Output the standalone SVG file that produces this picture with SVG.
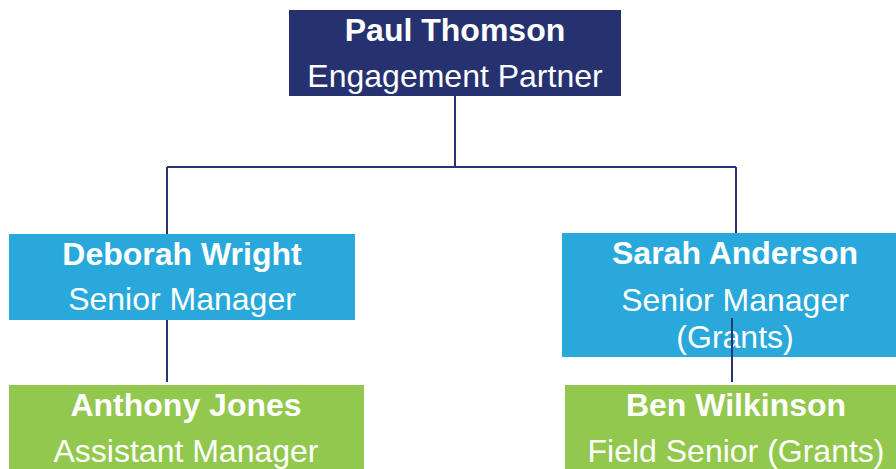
<svg xmlns="http://www.w3.org/2000/svg" width="896" height="469" viewBox="0 0 896 469">
<style>
.t{font-family:"Liberation Sans",Arial,sans-serif;font-size:32px;fill:#fff;text-anchor:middle}
.b{font-weight:bold}
.ln{stroke:#2b3376;stroke-width:2;fill:none}
</style>
<rect width="896" height="469" fill="#fff"/>
<g id="n-paul">
<rect x="289" y="10" width="332" height="86" fill="#263270"/>
<text class="t b" x="455" y="41">Paul Thomson</text>
<text class="t" x="455" y="87">Engagement Partner</text>
</g>
<g id="n-deborah">
<rect x="9" y="234" width="346" height="86" fill="#29a9db"/>
<text class="t b" x="182" y="265">Deborah Wright</text>
<text class="t" x="182" y="310">Senior Manager</text>
</g>
<g id="n-sarah">
<rect x="562" y="233" width="334" height="124" fill="#29a9db"/>
<text class="t b" x="735" y="264">Sarah Anderson</text>
<text class="t" x="735" y="311">Senior Manager</text>
<text class="t" x="735" y="348">(Grants)</text>
</g>
<g id="n-anthony">
<rect x="9" y="385" width="355" height="84" fill="#93c84e"/>
<text class="t b" x="186" y="416">Anthony Jones</text>
<text class="t" x="186" y="462">Assistant Manager</text>
</g>
<g id="n-ben">
<rect x="565" y="385" width="331" height="84" fill="#93c84e"/>
<text class="t b" x="736" y="416">Ben Wilkinson</text>
<text class="t" x="736" y="462">Field Senior (Grants)</text>
</g>
<g id="connectors">
<path class="ln" d="M455 96V167M167 167H736M167 167V234M736 167V233"/>
<path class="ln" d="M167 320V382"/>
<path class="ln" d="M732 318V382"/>
</g>
</svg>
